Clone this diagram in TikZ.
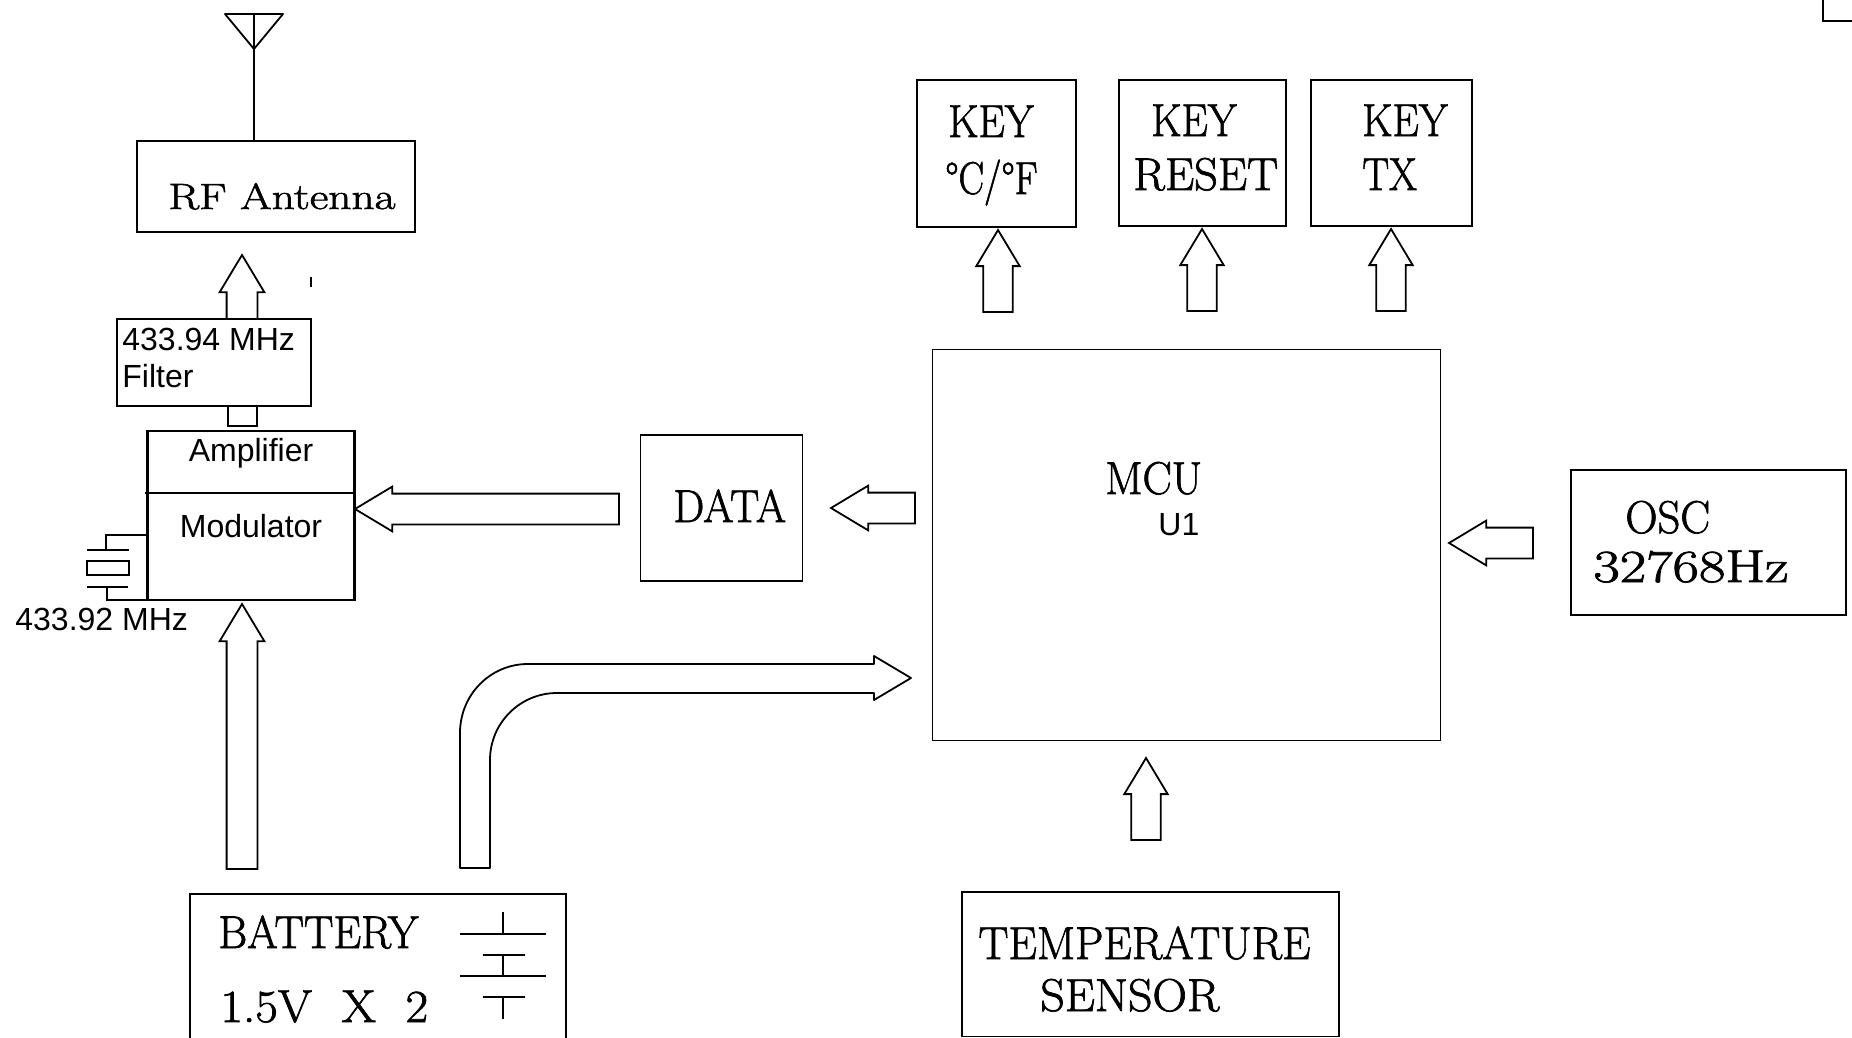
\documentclass[tikz,border=0pt]{standalone}
\usepackage{fontspec}
\newfontfamily\labelsans{Liberation Sans}
\newfontfamily\labelserif[FakeBold=1.5]{Latin Modern Roman}
\usetikzlibrary{shapes.arrows}

\tikzset{
    blockbox/.style={draw, anchor=north west, inner sep=0pt, outer sep=0pt, line width=.9pt},
    blockarrow/.style={draw, single arrow, anchor=tail, inner xsep=0pt, inner ysep=7.25pt, outer sep=0pt, line width=.9pt,
        minimum width=22pt, single arrow head extend=3.5pt, single arrow tip angle=62},
    keyarrow/.style={blockarrow, inner ysep=6.9pt, minimum width=21pt},
    lab/.style={anchor=base west, inner sep=0pt},
    sanslab/.style={lab, font=\labelsans\fontsize{16}{16}\selectfont},
    thin wire/.style={line width=.9pt},
    heavy wire/.style={line width=1.1pt}
}
\newcommand{\narrow}[2]{{\labelserif\fontsize{23}{23}\selectfont\scalebox{#1}[1]{#2}}}

\begin{document}
\begin{tikzpicture}[x=.5pt, y=-.5pt]
    \useasboundingbox (0,0) rectangle (1852,1038);
    \clip (0,0) rectangle (1852,1038);

    % Antenna
    \coordinate (antL) at (225,14);
    \coordinate (antR) at (283,14);
    \coordinate (antT) at (254,49);
    \coordinate (antS) at (254,14);
    \node[blockbox, minimum width=139pt, minimum height=45.5pt] (rf) at (137,141) {};
    \node[lab, font=\labelserif\fontsize{18.3}{18.3}\selectfont] (rftext) at (168,209) {\scalebox{1.24}[1]{RF\ Antenna}};
    \draw[thin wire, line join=round] (antL) -- (antR) -- (antT) -- cycle;
    \draw[thin wire] (antS) -- (antS |- rf.north);

    % Filter and modulator
    \node[blockarrow, rotate=90, minimum height=32pt] (filterout) at (242,319) {};
    \node[blockbox, fill=white, heavy wire, minimum width=97pt, minimum height=43.5pt] (filter) at (117,319) {};
    \node[sanslab] (filtera) at (122,350) {433.94 MHz};
    \node[sanslab] (filterb) at (122,387) {Filter};
    \node[blockbox, minimum width=14.5pt, minimum height=10pt] (stub) at (228,406) {};
    \node[blockbox, heavy wire, minimum width=103.5pt, minimum height=84.5pt] (amp) at (147.5,431) {};
    \coordinate (divL) at (145,493);
    \coordinate (divR) at (356,493);
    \draw[heavy wire] (divL) -- (divR);
    \node[sanslab, anchor=base] (amptext) at (251,461) {Amplifier};
    \node[sanslab, anchor=base] (modtext) at (251,537) {Modulator};
    \node[blockbox, heavy wire, minimum width=21pt, minimum height=7pt] (xtal) at (87,561) {};
    \coordinate (xtalT) at (106,550);
    \coordinate (xtalB) at (107,587);
    \draw[heavy wire] (87,550) -- (129,550);
    \draw[heavy wire] (87,587) -- (128,587);
    \draw[heavy wire] (xtalT) -- (106,535) -- (147,535);
    \draw[heavy wire] (xtalB) -- (107,600) -- (147,600);
    \node[sanslab] (xtaltext) at (15,630) {433.92 MHz};
    \draw[thin wire] (311,277) -- (311,287);

    % Battery
    \node[blockbox, minimum width=188pt, minimum height=90pt] (bat) at (190,894) {};
    \node[lab] (battext) at (218,948) {\narrow{.96}{BATTERY}};
    \node[lab] (voltext) at (220,1022) {\narrow{1.07}{1.5V\ \ X\ \ 2}};
    \draw[thin wire] (503,912) -- (503,934) (460,934) -- (546,934);
    \draw[thin wire] (483,955) -- (525,955) (503,955) -- (503,976) (460,976) -- (546,976);
    \draw[thin wire] (483,997) -- (525,997) (503,997) -- (503,1019);
    \node[blockarrow, rotate=90, minimum height=132.5pt] (batmod) at (242,869) {};
    \draw[thin wire, line join=round] (460,868) -- (460,733) .. controls (460,695) and (490,664) .. (528,664)
        -- (874,664) -- (874,656) -- (911,678) -- (874,700) -- (874,693) -- (557,693)
        .. controls (520,693) and (490,723) .. (490,760) -- (490,868) -- cycle;

    % MCU
    \node[blockbox, minimum width=254pt, minimum height=195.5pt] (mcu) at (932.5,349.5) {};
    \node[lab] (mcutext) at (1105,494) {\narrow{.95}{MCU}};
    \node[sanslab] (u1text) at (1158,535) {U1};
    \node[blockbox, minimum width=81pt, minimum height=73pt] (data) at (640.5,435) {};
    \node[lab] (datatext) at (673,522) {\narrow{.95}{DATA}};
    \node[blockarrow, rotate=180, minimum height=132pt] (datamod) at (619,509) {};
    \node[blockarrow, rotate=180, minimum height=42pt] (mcudata) at (915,508) {};

    % Keys
    \node[blockbox, minimum width=79.5pt, minimum height=73.5pt] (keya) at (917,80) {};
    \node[blockbox, minimum width=83.5pt, minimum height=73pt] (keyb) at (1119,80) {};
    \node[blockbox, minimum width=80.5pt, minimum height=73pt] (keyc) at (1311,80) {};
    \node[lab] (keyatext) at (948,137) {\narrow{.91}{KEY}};
    \node[lab] (keyaunit) at (945,194) {\narrow{.83}{°C/°F}};
    \node[lab] (keybtext) at (1151,136) {\narrow{.91}{KEY}};
    \node[lab] (keybname) at (1133,190) {\narrow{1.01}{RESET}};
    \node[lab] (keyctext) at (1362,136) {\narrow{.91}{KEY}};
    \node[lab] (keycname) at (1362,190) {\narrow{.87}{TX}};
    \node[keyarrow, rotate=90, minimum height=41pt] (mcukeya) at (998,312) {};
    \node[keyarrow, rotate=90, minimum height=41pt] (mcukeyb) at (1202,311) {};
    \node[keyarrow, rotate=90, minimum height=41pt] (mcukeyc) at (1391,311) {};

    % Oscillator and sensor
    \node[blockbox, minimum width=137.5pt, minimum height=72.5pt] (osc) at (1571,470) {};
    \node[lab] (osctext) at (1625,533) {\narrow{.97}{OSC}};
    \node[lab] (oscfreq) at (1593,582) {\narrow{1.25}{32768Hz}};
    \node[blockarrow, rotate=180, minimum height=42pt] (oscmcu) at (1533,543) {};
    \node[blockbox, minimum width=188.5pt, minimum height=72.2pt] (temp) at (962,892) {};
    \node[lab] (temptext) at (978,959) {\narrow{.98}{TEMPERATURE}};
    \node[lab] (tempname) at (1040,1011) {\narrow{1.04}{SENSOR}};
    \node[keyarrow, rotate=90, minimum height=41pt] (tempmcu) at (1146,840) {};

    % Corner at the page edge
    \draw[thin wire] (1823,-5) -- (1823,21) -- (1860,21);
\end{tikzpicture}
\end{document}
